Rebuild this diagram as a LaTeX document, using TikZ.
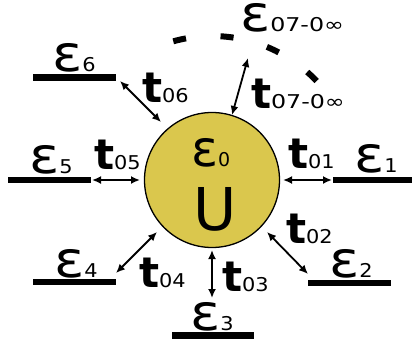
\documentclass[tikz,border=0pt]{standalone}
\usepackage{fontspec}
\setmainfont{DejaVu Sans}
\usetikzlibrary{arrows.meta}
\definecolor{sunfill}{RGB}{218,199,77}
\newcommand\bigE{\scalebox{1.12}[1]{\fontsize{50}{50}\selectfont ε}}
\newcommand\bigT{{\fontsize{42}{42}\selectfont\bfseries t}}
\newcommand\subs[2][1.1]{\scalebox{#1}[1]{\fontsize{19}{19}\selectfont #2}}
\begin{document}
\begin{tikzpicture}[x=1pt,y=-1pt,
  lab/.style={anchor=base west,inner sep=0pt,outer sep=0pt},
  level/.style={line width=6.5pt},
  hop/.style={line width=1.8pt,{Latex[length=9pt,width=8pt]}-{Latex[length=9pt,width=8pt]}},
  dashseg/.style={line width=6pt}]
\useasboundingbox (0,0) rectangle (412,338);
% central site
\node[circle,draw,line width=1.3pt,fill=sunfill,minimum size=135pt,inner sep=0pt] (c) at (212,180) {};
\node[lab] (e0) at (191,166) {\fontsize{50}{50}\selectfont ε\fontsize{19}{19}\selectfont 0};
\node[lab] (u) at (193,230) {\fontsize{59}{59}\selectfont U};
% levels
\coordinate (l1a) at (333,180); \coordinate (l1b) at (412,180);
\coordinate (l5a) at (8,180);   \coordinate (l5b) at (91,180);
\coordinate (l6a) at (33,77.5); \coordinate (l6b) at (116,77.5);
\coordinate (l4a) at (33,282);  \coordinate (l4b) at (116,282);
\coordinate (l2a) at (308,283); \coordinate (l2b) at (391,283);
\coordinate (l3a) at (172,335.5); \coordinate (l3b) at (254,335.5);
\draw[level] (l1a) -- (l1b);
\draw[level] (l5a) -- (l5b);
\draw[level] (l6a) -- (l6b);
\draw[level] (l4a) -- (l4b);
\draw[level] (l2a) -- (l2b);
\draw[level] (l3a) -- (l3b);
% level labels
\node[lab] (E1) at (354,172) {\bigE\subs{1}};
\node[lab] (E5) at (29,173) {\bigE\subs{5}};
\node[lab] (E6) at (52,71.5) {\bigE\subs{6}};
\node[lab] (E4) at (54,277) {\bigE\subs{4}};
\node[lab] (E2) at (329,277) {\bigE\subs{2}};
\node[lab] (E3) at (190,330) {\bigE\subs{3}};
\node[lab] (E7) at (240,31) {\bigE\subs[1.25]{07-0∞}};
% hopping arrows
\coordinate (a1s) at (283,180); \coordinate (a1e) at (332,180);
\coordinate (a5s) at (140,180); \coordinate (a5e) at (92,180);
\coordinate (a6s) at (161,122); \coordinate (a6e) at (120,81);
\coordinate (a7s) at (232,115); \coordinate (a7e) at (248,58);
\coordinate (a2s) at (267,232); \coordinate (a2e) at (308,274);
\coordinate (a4s) at (157,232); \coordinate (a4e) at (116,273);
\coordinate (a3s) at (212,250); \coordinate (a3e) at (212,298);
\draw[hop] (a1s) -- (a1e);
\draw[hop] (a5s) -- (a5e);
\draw[hop] (a6s) -- (a6e);
\draw[hop] (a7s) -- (a7e);
\draw[hop] (a2s) -- (a2e);
\draw[hop] (a4s) -- (a4e);
\draw[hop] (a3s) -- (a3e);
% hopping labels
\node[lab] (T1) at (288,168) {\bigT\subs{01}};
\node[lab] (T5) at (94,169) {\bigT\subs{05}};
\node[lab] (T6) at (142,102) {\bigT\subs{06}};
\node[lab] (T7) at (251,108) {\bigT\subs[1.25]{07-0∞}};
\node[lab] (T2) at (286,243) {\bigT\subs{02}};
\node[lab] (T4) at (139,287) {\bigT\subs{04}};
\node[lab] (T3) at (222,291) {\bigT\subs{03}};
% dashed arc of further levels
\foreach \ang in {103,84,65,46}
  \draw[dashseg] ([shift={(\ang+2.6:144pt)}]c.center) arc[start angle=\ang+2.6,end angle=\ang-2.6,radius=144pt];
\end{tikzpicture}
\end{document}
